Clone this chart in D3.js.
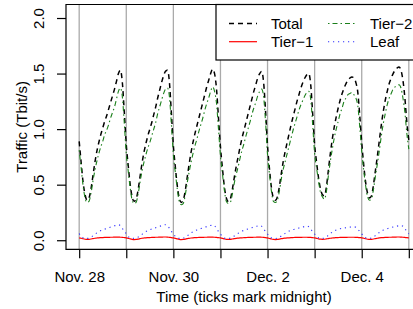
<!DOCTYPE html>
<html>
<head>
<meta charset="utf-8">
<script src="https://cdn.jsdelivr.net/npm/d3@7"></script>
<style>
    html, body { margin: 0; padding: 0; background: #fff; }
    svg { display: block; font-family: 'Liberation Sans', Arial, Helvetica, sans-serif; }
</style>
</head>
<body>
<svg id="chart" width="413" height="309"></svg>
<script>
// hourly samples in Tbit/s, Nov. 28 00:00 -> Dec. 5 00:00, one row per day
const total = [
    0.89, 0.70, 0.52, 0.41, 0.36, 0.38, 0.46, 0.58, 0.70, 0.80, 0.88, 0.95, 1.01, 1.07, 1.12, 1.18, 1.24, 1.30, 1.36, 1.43, 1.50, 1.53, 1.42, 1.15,
    0.86, 0.67, 0.50, 0.39, 0.35, 0.37, 0.45, 0.57, 0.69, 0.79, 0.87, 0.94, 1.00, 1.06, 1.13, 1.20, 1.28, 1.35, 1.42, 1.48, 1.52, 1.53, 1.42, 1.14,
    0.85, 0.66, 0.49, 0.38, 0.34, 0.36, 0.44, 0.56, 0.68, 0.79, 0.88, 0.96, 1.03, 1.10, 1.17, 1.24, 1.31, 1.38, 1.44, 1.50, 1.54, 1.50, 1.36, 1.10,
    0.84, 0.65, 0.48, 0.38, 0.35, 0.37, 0.45, 0.56, 0.66, 0.75, 0.84, 0.92, 0.99, 1.06, 1.13, 1.20, 1.27, 1.34, 1.40, 1.46, 1.50, 1.52, 1.42, 1.16,
    0.85, 0.64, 0.47, 0.38, 0.36, 0.39, 0.48, 0.60, 0.71, 0.80, 0.88, 0.96, 1.04, 1.11, 1.18, 1.25, 1.31, 1.37, 1.42, 1.46, 1.49, 1.50, 1.40, 1.14,
    0.86, 0.70, 0.56, 0.46, 0.41, 0.40, 0.48, 0.63, 0.78, 0.91, 1.02, 1.11, 1.19, 1.26, 1.32, 1.37, 1.41, 1.44, 1.46, 1.47, 1.46, 1.42, 1.33, 1.12,
    0.88, 0.68, 0.52, 0.42, 0.38, 0.40, 0.50, 0.63, 0.76, 0.90, 1.04, 1.16, 1.26, 1.34, 1.41, 1.46, 1.50, 1.53, 1.55, 1.56, 1.53, 1.44, 1.28, 1.06,
    0.90
];

const tier1 = [
    0.022, 0.018, 0.013, 0.009, 0.007, 0.008, 0.011, 0.015, 0.018, 0.020, 0.022, 0.023, 0.024, 0.025, 0.026, 0.026, 0.027, 0.027, 0.028, 0.028, 0.028, 0.027, 0.026, 0.024,
    0.022, 0.017, 0.012, 0.008, 0.006, 0.007, 0.010, 0.014, 0.018, 0.020, 0.022, 0.023, 0.024, 0.025, 0.026, 0.027, 0.027, 0.028, 0.028, 0.029, 0.029, 0.028, 0.026, 0.024,
    0.021, 0.017, 0.012, 0.008, 0.006, 0.007, 0.010, 0.014, 0.017, 0.020, 0.022, 0.023, 0.024, 0.025, 0.026, 0.026, 0.027, 0.027, 0.028, 0.028, 0.028, 0.027, 0.025, 0.023,
    0.021, 0.017, 0.012, 0.008, 0.007, 0.008, 0.011, 0.014, 0.017, 0.019, 0.021, 0.022, 0.023, 0.024, 0.025, 0.026, 0.026, 0.027, 0.027, 0.028, 0.028, 0.027, 0.026, 0.024,
    0.021, 0.016, 0.011, 0.008, 0.006, 0.007, 0.010, 0.014, 0.017, 0.019, 0.021, 0.022, 0.023, 0.024, 0.025, 0.025, 0.026, 0.026, 0.027, 0.027, 0.027, 0.026, 0.025, 0.023,
    0.021, 0.017, 0.013, 0.010, 0.008, 0.009, 0.012, 0.015, 0.018, 0.020, 0.022, 0.023, 0.024, 0.025, 0.025, 0.026, 0.026, 0.027, 0.027, 0.027, 0.027, 0.026, 0.025, 0.023,
    0.022, 0.018, 0.013, 0.009, 0.007, 0.008, 0.011, 0.015, 0.018, 0.021, 0.023, 0.024, 0.025, 0.026, 0.027, 0.027, 0.028, 0.028, 0.029, 0.029, 0.028, 0.027, 0.025, 0.023,
    0.022
];

const tier2 = [
    0.81, 0.65, 0.49, 0.38, 0.34, 0.35, 0.42, 0.53, 0.63, 0.71, 0.78, 0.84, 0.89, 0.95, 0.99, 1.04, 1.10, 1.15, 1.20, 1.27, 1.34, 1.37, 1.29, 1.05,
    0.78, 0.62, 0.47, 0.36, 0.33, 0.34, 0.41, 0.52, 0.62, 0.70, 0.77, 0.83, 0.88, 0.94, 1.00, 1.06, 1.14, 1.20, 1.26, 1.32, 1.36, 1.37, 1.29, 1.04,
    0.77, 0.61, 0.46, 0.35, 0.32, 0.33, 0.40, 0.51, 0.61, 0.70, 0.78, 0.85, 0.91, 0.98, 1.04, 1.10, 1.17, 1.23, 1.28, 1.34, 1.38, 1.34, 1.23, 1.00,
    0.76, 0.60, 0.45, 0.35, 0.33, 0.34, 0.41, 0.51, 0.59, 0.66, 0.74, 0.81, 0.87, 0.94, 1.00, 1.06, 1.13, 1.19, 1.24, 1.30, 1.34, 1.36, 1.29, 1.06,
    0.77, 0.59, 0.44, 0.35, 0.34, 0.36, 0.44, 0.55, 0.64, 0.71, 0.78, 0.85, 0.92, 0.99, 1.05, 1.11, 1.17, 1.22, 1.26, 1.30, 1.33, 1.34, 1.27, 1.04,
    0.78, 0.65, 0.53, 0.43, 0.39, 0.37, 0.44, 0.58, 0.71, 0.82, 0.92, 1.00, 1.07, 1.14, 1.19, 1.25, 1.28, 1.31, 1.32, 1.33, 1.31, 1.28, 1.21, 1.02,
    0.80, 0.63, 0.49, 0.39, 0.36, 0.37, 0.46, 0.58, 0.69, 0.81, 0.94, 1.05, 1.14, 1.22, 1.28, 1.32, 1.36, 1.38, 1.39, 1.40, 1.37, 1.28, 1.15, 0.96,
    0.82
];

const leaf = [
    0.060, 0.035, 0.022, 0.018, 0.017, 0.020, 0.028, 0.040, 0.053, 0.066, 0.078, 0.087, 0.094, 0.100, 0.106, 0.112, 0.119, 0.125, 0.130, 0.135, 0.139, 0.132, 0.106, 0.080,
    0.058, 0.034, 0.022, 0.018, 0.017, 0.020, 0.028, 0.040, 0.053, 0.066, 0.078, 0.087, 0.094, 0.101, 0.107, 0.113, 0.120, 0.126, 0.131, 0.136, 0.140, 0.133, 0.107, 0.080,
    0.058, 0.034, 0.021, 0.017, 0.016, 0.019, 0.027, 0.039, 0.052, 0.065, 0.077, 0.086, 0.093, 0.099, 0.105, 0.111, 0.117, 0.123, 0.128, 0.133, 0.136, 0.130, 0.105, 0.079,
    0.057, 0.033, 0.021, 0.017, 0.016, 0.019, 0.027, 0.038, 0.050, 0.062, 0.073, 0.082, 0.089, 0.095, 0.101, 0.107, 0.113, 0.119, 0.124, 0.128, 0.131, 0.126, 0.103, 0.078,
    0.056, 0.033, 0.021, 0.017, 0.016, 0.019, 0.027, 0.038, 0.050, 0.062, 0.073, 0.082, 0.089, 0.095, 0.100, 0.105, 0.110, 0.115, 0.120, 0.124, 0.127, 0.122, 0.100, 0.077,
    0.056, 0.034, 0.022, 0.018, 0.017, 0.020, 0.030, 0.045, 0.060, 0.073, 0.084, 0.092, 0.098, 0.103, 0.107, 0.110, 0.113, 0.116, 0.118, 0.120, 0.121, 0.116, 0.100, 0.078,
    0.058, 0.035, 0.022, 0.018, 0.017, 0.020, 0.029, 0.042, 0.056, 0.070, 0.082, 0.091, 0.098, 0.104, 0.109, 0.114, 0.119, 0.123, 0.127, 0.130, 0.132, 0.126, 0.104, 0.079,
    0.057
];

const seriesNames = ['Total', 'Tier\u22121', 'Tier\u22122', 'Leaf'];
const midnights = ['2011-11-28', '2011-11-29', '2011-11-30', '2011-12-01', '2011-12-02', '2011-12-03', '2011-12-04', '2011-12-05'];
const midnightLabels = ['Nov. 28', '', 'Nov. 30', '', 'Dec. 2', '', 'Dec. 4', ''];
const yTicks = [0, 0.5, 1, 1.5, 2];
const yLimits = [0, 2.04];

class TrafficChart {
    constructor(elementId) {
        this.svg = d3.select(elementId);
        this.width = +this.svg.attr('width');
        this.height = +this.svg.attr('height');
        // plot region runs past the right edge of the picture, like the original
        this.margin = { top: 4.5, right: -9, bottom: 59.7, left: 66 };
        this.fontSize = 15;

        this.styles = {
            'Total': { color: '#000000', dash: '5,4', width: 1.5 },
            'Tier\u22121': { color: '#ff0000', dash: null, width: 1.2 },
            'Tier\u22122': { color: '#1a7f1a', dash: '1.5,3,5,3', width: 1.1 },
            'Leaf': { color: '#3030ff', dash: '1.2,3.8', width: 1.1 }
        };

        const t0 = new Date(midnights[0] + 'T00:00:00Z');
        this.times = total.map((d, i) => new Date(t0.getTime() + i * 3600e3));
        this.series = [total, tier1, tier2, leaf];

        const x0 = this.margin.left;
        const x1 = this.width - this.margin.right;
        const y0 = this.height - this.margin.bottom;
        const y1 = this.margin.top;

        // R-style 4% padding around the data range
        const tMin = this.times[0].getTime();
        const tMax = this.times[this.times.length - 1].getTime();
        const tPad = (tMax - tMin) * 0.04;
        this.x = d3.scaleUtc()
            .domain([new Date(tMin - tPad), new Date(tMax + tPad)])
            .range([x0, x1]);

        const yPad = (yLimits[1] - yLimits[0]) * 0.04;
        this.y = d3.scaleLinear()
            .domain([yLimits[0] - yPad, yLimits[1] + yPad])
            .range([y0, y1]);

        this.plot = { x0, x1, y0, y1 };
        this.render();
    }

    render() {
        this.renderGrid();
        this.renderLines();
        this.renderLegend();
        this.renderAxes();
        this.renderTitles();
    }

    renderGrid() {
        const days = midnights.map(d => new Date(d + 'T00:00:00Z'));
        this.svg.append('g')
            .selectAll('line')
            .data(days)
            .enter()
            .append('line')
            .attr('x1', d => this.x(d))
            .attr('x2', d => this.x(d))
            .attr('y1', this.plot.y1)
            .attr('y2', this.plot.y0)
            .attr('stroke', '#aaaaaa')
            .attr('stroke-width', 1.3);
    }

    renderLines() {
        const line = d3.line()
            .x((d, i) => this.x(this.times[i]))
            .y(d => this.y(d))
            .curve(d3.curveMonotoneX);

        this.svg.append('g')
            .selectAll('path')
            .data(this.series)
            .enter()
            .append('path')
            .attr('d', d => line(d))
            .attr('fill', 'none')
            .attr('stroke', (d, i) => this.styles[seriesNames[i]].color)
            .attr('stroke-width', (d, i) => this.styles[seriesNames[i]].width)
            .attr('stroke-dasharray', (d, i) => this.styles[seriesNames[i]].dash);
    }

    renderLegend() {
        const g = this.svg.append('g');
        g.append('rect')
            .attr('x', 216)
            .attr('y', this.plot.y1)
            .attr('width', 240)
            .attr('height', 55.5)
            .attr('fill', '#fff')
            .attr('stroke', '#000')
            .attr('stroke-width', 1.2);

        const cols = [229, 328];
        const rows = [23.5, 41.7];
        const items = g.selectAll('g.item')
            .data(seriesNames)
            .enter()
            .append('g')
            .attr('class', 'item')
            .attr('transform', (d, i) => `translate(${cols[Math.floor(i / 2)]},${rows[i % 2]})`);

        items.append('line')
            .attr('x1', 0)
            .attr('x2', 28)
            .attr('stroke', d => this.styles[d].color)
            .attr('stroke-width', d => this.styles[d].width)
            .attr('stroke-dasharray', d => this.styles[d].dash);

        items.append('text')
            .attr('x', 42)
            .attr('dy', '0.36em')
            .attr('font-size', this.fontSize)
            .attr('fill', '#000')
            .text(d => d);
    }

    renderAxes() {
        const { x0, x1, y0, y1 } = this.plot;

        this.svg.append('path')
            .attr('d', `M${x1},${y1}H${x0}V${y0}H${x1}`)
            .attr('fill', 'none')
            .attr('stroke', '#000')
            .attr('stroke-width', 1.2);

        const days = midnights.map(d => new Date(d + 'T00:00:00Z'));
        const xAxis = this.svg.append('g')
            .attr('transform', `translate(0,${y0})`)
            .call(d3.axisBottom(this.x)
                .tickValues(days)
                .tickSize(9)
                .tickSizeOuter(0)
                .tickFormat((d, i) => midnightLabels[i]));
        xAxis.select('.domain').remove();
        xAxis.selectAll('line').attr('stroke-width', 1.2);
        xAxis.selectAll('text')
            .attr('y', 33.2)
            .attr('dy', null)
            .attr('font-size', this.fontSize)
            .attr('font-family', null)
            .attr('fill', '#000');

        const yAxis = this.svg.append('g')
            .attr('transform', `translate(${x0},0)`)
            .call(d3.axisLeft(this.y)
                .tickValues(yTicks)
                .tickSize(9)
                .tickSizeOuter(0)
                .tickFormat(d3.format('.1f')));
        yAxis.select('.domain').remove();
        yAxis.selectAll('line').attr('stroke-width', 1.2);
        yAxis.selectAll('text')
            .attr('x', null)
            .attr('dy', null)
            .attr('transform', 'translate(-21.7,0) rotate(-90)')
            .attr('text-anchor', 'middle')
            .attr('font-size', this.fontSize)
            .attr('font-family', null)
            .attr('fill', '#000');
    }

    renderTitles() {
        const { x0, x1, y0, y1 } = this.plot;
        this.svg.append('text')
            .attr('x', (x0 + x1) / 2)
            .attr('y', 301.7)
            .attr('text-anchor', 'middle')
            .attr('font-size', this.fontSize)
            .text('Time (ticks mark midnight)');

        this.svg.append('text')
            .attr('transform', `translate(26.5,${(y0 + y1) / 2}) rotate(-90)`)
            .attr('text-anchor', 'middle')
            .attr('font-size', this.fontSize)
            .text('Traffic (Tbit/s)');
    }
}

new TrafficChart('#chart');
</script>
</body>
</html>
